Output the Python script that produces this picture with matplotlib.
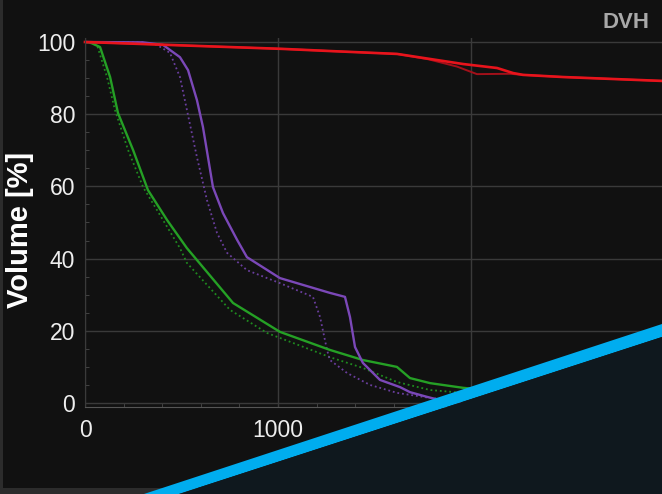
"""
DVH screenshot look-alike
"""

import matplotlib
matplotlib.use("Agg")
import matplotlib.pyplot as plt
from matplotlib.patches import Polygon, Rectangle
from matplotlib.ticker import MultipleLocator

# ---------- Data (dose vs volume %) ----------
red_x = [0, 1021, 1269, 1617, 1788, 1959, 2135, 2218, 2269, 2477, 3000]
red_y = [100, 98.1, 97.5, 96.7, 95.3, 93.9, 92.8, 91.4, 90.9, 90.3, 89.2]

red_dot_x = [0, 1021, 1269, 1617, 1780, 1927, 2031, 2202, 2269, 2477, 3000]
red_dot_y = [100, 98.1, 97.5, 96.7, 95.2, 93.2, 91.1, 91.2, 90.9, 90.3, 89.2]

green_x = [0, 25, 78, 130, 171, 249, 326, 425, 528, 580, 767, 1010, 1269,
           1440, 1616, 1684, 1788, 1959, 2100]
green_y = [100, 99.9, 98.6, 90.3, 80.3, 70.1, 59.0, 50.7, 42.9, 39.6, 27.7,
           19.7, 14.7, 11.9, 10.0, 6.9, 5.5, 4.2, 3.5]

green_dot_x = [0, 20, 62, 114, 155, 223, 301, 404, 492, 528, 751, 943, 1269,
               1440, 1617, 1788, 1959, 2100]
green_dot_y = [100, 99.8, 99.2, 90.3, 81.2, 70.1, 59.8, 50.7, 42.9, 38.8,
               25.8, 19.4, 12.7, 9.7, 5.8, 3.6, 2.8, 2.2]

purple_x = [0, 300, 404, 492, 534, 580, 611, 663, 715, 788, 839, 1010, 1269,
            1347, 1373, 1399, 1440, 1528, 1632, 1684, 1772, 1839, 1943]
purple_y = [100, 99.9, 99.2, 95.8, 92.2, 83.9, 76.5, 59.8, 52.6, 45.2, 40.4,
            34.6, 30.5, 29.4, 23.8, 15.5, 11.1, 6.4, 4.4, 3.0, 1.7, 0.8, 0.3]

purple_dot_x = [0, 300, 373, 440, 492, 528, 580, 632, 684, 736, 839, 1010,
                1181, 1218, 1254, 1269, 1358, 1477, 1617, 1788, 1900]
purple_dot_y = [100, 99.9, 99.2, 97.0, 90.3, 81.2, 68.1, 56.2, 47.1, 41.6,
                36.8, 33.2, 29.4, 23.8, 14.7, 11.9, 8.3, 5.0, 2.8, 1.4, 0.8]

x_ticks = [0, 1000, 2000, 3000]
x_labels = ["0", "1000", "2000", ""]   # 3000 sits off the right edge
y_ticks = [0, 20, 40, 60, 80, 100]

W, H = 662, 494
FONT = ["Liberation Sans", "DejaVu Sans"]


def px(x, y):
    """image pixel (top-left origin) -> figure fraction"""
    return (x / W, 1 - y / H)


fig = plt.figure(figsize=(W / 100, H / 100), dpi=100, facecolor="#2c2c2c")

# inner dark panel
fig.patches.append(Rectangle(px(3, 488), (W - 3) / W, 488 / H,
                             transform=fig.transFigure, facecolor="#111111",
                             edgecolor="none", zorder=-5))

ax = fig.add_axes([85 / W, (H - 406.6) / H, 579 / W, 368.2 / H])
ax.set_facecolor("none")
ax.set_xlim(0, 3000)
ax.set_ylim(-1, 101)

ax.set_xticks(x_ticks)
ax.set_yticks(y_ticks)
ax.set_xticklabels(x_labels)
ax.set_yticklabels([str(v) for v in y_ticks])
ax.xaxis.set_minor_locator(MultipleLocator(200))
ax.yaxis.set_minor_locator(MultipleLocator(5))

ax.grid(True, which="major", color="#3a3a3a", lw=1.0)
ax.tick_params(which="major", length=0, colors="#eeeeee", labelsize=16.5)
ax.tick_params(axis="y", which="major", pad=7)
ax.tick_params(axis="x", which="major", pad=9)
ax.tick_params(which="minor", direction="in", length=3, color="#4a4a4a")
for lab in ax.get_xticklabels() + ax.get_yticklabels():
    lab.set_family(FONT)

for side in ("top", "right"):
    ax.spines[side].set_visible(False)
ax.spines["left"].set_color("#3a3a3a")
ax.spines["bottom"].set_color("#555555")

# curves: dotted ones first, red on top
ax.plot(green_dot_x, green_dot_y, color="#1f8a1f", lw=1.3, ls=(0, (1, 1.6)))
ax.plot(purple_dot_x, purple_dot_y, color="#6a3e9e", lw=1.3, ls=(0, (1, 1.6)))
ax.plot(green_x, green_y, color="#25a025", lw=1.7)
ax.plot(purple_x, purple_y, color="#7b48b8", lw=1.7)
ax.plot(red_dot_x, red_dot_y, color="#a3101a", lw=1.4)
ax.plot(red_x, red_y, color="#e8141c", lw=1.9, clip_on=False)

ax.set_ylabel("Volume [%]", color="white", fontsize=21, fontweight="bold",
              family=FONT)
ax.yaxis.set_label_coords(34 / W, 1 - 230 / H, transform=fig.transFigure)

fig.text(626 / W, 1 - 22 / H, "DVH", color="#a8a8a8", fontsize=16,
         fontweight="bold", family=FONT, va="center", ha="center")

# cyan diagonal band + dark corner panel
band = [px(144, 494), px(662, 324), px(662, 337), px(179, 494)]
corner = [px(179, 494), px(662, 337), px(662, 494)]
fig.patches.append(Polygon(band, closed=True, transform=fig.transFigure,
                           facecolor="#00adef", edgecolor="none", zorder=10))
fig.patches.append(Polygon(corner, closed=True, transform=fig.transFigure,
                           facecolor="#0f181e", edgecolor="none", zorder=10))

fig.savefig("out.png", dpi=100, facecolor=fig.get_facecolor())
